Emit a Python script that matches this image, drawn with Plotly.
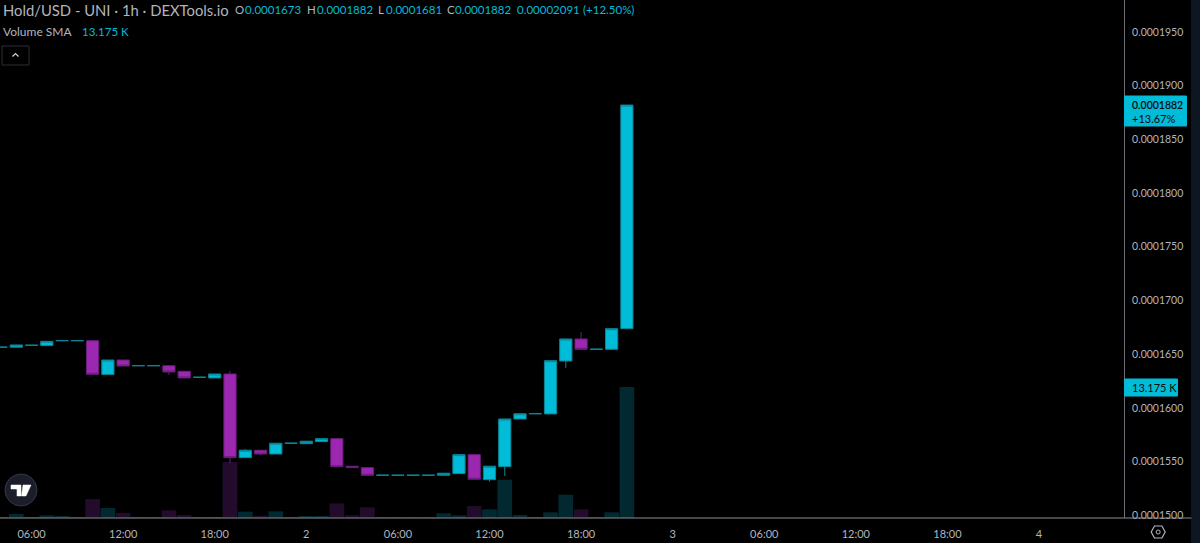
import pandas as pd
import plotly.graph_objects as go

# hourly candles, prices in units of 1e-7
times = pd.date_range("2022-01-01 04:00", "2022-01-02 21:00", freq="h")
opens = [1656.4, 1656.5, 1658.2, 1658.0, 1662.5, 1662.5, 1662.6, 1631.0, 1644.6, 1639.2, 1639.2, 1639.3, 1634.1, 1628.4, 1627.9, 1631.6, 1553.7, 1560.6, 1557.1, 1567.0, 1566.7, 1568.6, 1571.4, 1545.7, 1544.4, 1537.2, 1537.2, 1537.2, 1537.2, 1537.3, 1538.8, 1556.5, 1533.2, 1545.3, 1589.7, 1594.5, 1594.4, 1643.7, 1664.2, 1654.5, 1654.6, 1673.8]
highs = [1656.6, 1658.6, 1658.4, 1662.0, 1662.7, 1662.7, 1662.6, 1644.6, 1644.6, 1639.4, 1639.4, 1639.3, 1634.1, 1628.6, 1631.6, 1634.4, 1561.8, 1560.6, 1567.1, 1567.2, 1569.0, 1571.4, 1571.4, 1545.7, 1544.4, 1537.4, 1537.4, 1537.4, 1537.4, 1539.2, 1556.5, 1556.5, 1545.7, 1589.7, 1594.6, 1594.7, 1644.0, 1664.2, 1670.7, 1654.7, 1673.8, 1882.0]
lows = [1656.4, 1656.5, 1658.2, 1658.0, 1662.5, 1662.5, 1631.3, 1631.0, 1639.0, 1639.2, 1639.2, 1630.7, 1627.9, 1628.4, 1627.9, 1548.7, 1553.7, 1555.9, 1557.1, 1567.0, 1566.7, 1568.6, 1545.3, 1544.4, 1537.3, 1537.2, 1537.2, 1537.2, 1537.2, 1537.3, 1538.8, 1533.6, 1531.3, 1536.6, 1589.7, 1594.5, 1594.4, 1637.2, 1654.6, 1654.5, 1654.6, 1673.8]
closes = [1656.6, 1658.6, 1658.4, 1662.0, 1662.7, 1662.7, 1631.3, 1644.6, 1639.0, 1639.4, 1639.4, 1633.5, 1627.9, 1628.6, 1631.6, 1553.7, 1560.6, 1557.1, 1567.1, 1567.2, 1569.0, 1571.4, 1545.3, 1544.4, 1537.3, 1537.4, 1537.4, 1537.4, 1537.4, 1539.2, 1556.5, 1533.6, 1545.7, 1589.7, 1594.6, 1594.7, 1644.0, 1664.2, 1654.6, 1654.7, 1673.8, 1882.0]
volumes = [30, 400, 60, 270, 200, 30, 1900, 1000, 500, 50, 50, 770, 300, 50, 100, 5630, 640, 230, 670, 50, 170, 170, 1470, 270, 1070, 40, 40, 40, 40, 470, 270, 1200, 870, 3850, 300, 30, 570, 2340, 870, 20, 570, 13175]

price_ticks = [1500, 1550, 1600, 1650, 1700, 1750, 1800, 1850, 1900, 1950]
price_labels = ["0.0001500", "0.0001550", "0.0001600", "0.0001650", "0.0001700", "0.0001750", "0.0001800", "0.0001850", "0.0001900", "0.0001950"]
time_ticks = ["2022-01-01 06:00", "2022-01-01 12:00", "2022-01-01 18:00", "2022-01-02 00:00", "2022-01-02 06:00", "2022-01-02 12:00", "2022-01-02 18:00", "2022-01-03 00:00", "2022-01-03 06:00", "2022-01-03 12:00", "2022-01-03 18:00", "2022-01-04 00:00"]
time_labels = ["06:00", "12:00", "18:00", "2", "06:00", "12:00", "18:00", "3", "06:00", "12:00", "18:00", "4"]

CYAN = "#00BCD8"
PURPLE = "#9C27B0"
GREY = "#B2B5BE"
FONT = "Lato"
W, H = 1124.5, 518


def px(x):
    return x / W


def py(y):
    return 1 - y / H


def box(x0, y0, x1, y1, fill, line=None, shape="rect"):
    return dict(type=shape, xref="paper", yref="paper", x0=px(x0), x1=px(x1), y0=py(y0), y1=py(y1),
                fillcolor=fill, line=dict(color=line or fill, width=1), layer="above")


def path(points, color, fill="rgba(0,0,0,0)", width=1.5, closed=False):
    d = "M" + " L".join(f"{px(a):.5f},{py(b):.5f}" for a, b in points) + (" Z" if closed else "")
    return dict(type="path", xref="paper", yref="paper", path=d, fillcolor=fill,
                line=dict(color=color, width=width), layer="above")


def label(x, y, text, color=GREY, size=11.5, weight=None):
    return dict(xref="paper", yref="paper", x=px(x), y=py(y), text=text, showarrow=False, xanchor="left",
                yanchor="middle", font=dict(family=FONT, size=size, color=color, weight=weight), borderpad=0)


vol_colors = ["#02292F" if c >= o else "#230C2B" for o, c in zip(opens, closes)]

fig = go.Figure()
fig.add_trace(go.Bar(x=times, y=volumes, marker=dict(color=vol_colors, line=dict(width=0)), yaxis="y", hoverinfo="skip"))
fig.add_trace(go.Candlestick(
    x=times, open=opens, high=highs, low=lows, close=closes, yaxis="y2", whiskerwidth=0, hoverinfo="skip",
    increasing=dict(line=dict(color="#0A8496", width=1), fillcolor=CYAN),
    decreasing=dict(line=dict(color="#6A1E7A", width=1), fillcolor=PURPLE),
))

shapes = [
    box(1192, -1, 1201, 544, "#0C1722"),
    path([(0, 518), (1192, 518)], "#8A8D94", width=1),
    box(1125, 96, 1187, 126, CYAN),
    box(1125, 379, 1178, 396, CYAN),
    box(2, 46, 29, 65, "#000000", "#2A2E39"),
    path([(12.5, 56.5), (15.5, 53.5), (18.5, 56.5)], "#D1D4DC", width=1.2),
    box(5, 474, 37, 506, "#1B1D2A", "#363A45", "circle"),
    path([(11, 485), (21, 485), (21, 496), (17, 496), (17, 489), (11, 489)], "#FFFFFF", "#FFFFFF", 0.5, True),
    path([(23, 485), (31, 485), (26, 496), (21.5, 496)], "#FFFFFF", "#FFFFFF", 0.5, True),
    path([(1151.7, 532), (1155, 526), (1162.4, 526), (1165.7, 532), (1162.4, 538), (1155, 538)], "#B2B5BE", width=1.2, closed=True),
    box(1156.7, 530, 1160.7, 534, "rgba(0,0,0,0)", "#B2B5BE", "circle"),
]

annotations = [
    label(2, 9.5, "Hold/USD - UNI · 1h · DEXTools.io", size=14.8),
    label(234, 9.5, "O"),
    label(244.5, 9.5, "0.0001673", CYAN),
    label(306, 9.5, "H"),
    label(315.7, 9.5, "0.0001882", CYAN),
    label(376.7, 9.5, "L"),
    label(385, 9.5, "0.0001681", CYAN),
    label(446, 9.5, "C"),
    label(454.5, 9.5, "0.0001882", CYAN),
    label(516, 9.5, "0.00002091", CYAN),
    label(582.5, 9.5, "(+12.50%)", CYAN),
    label(2, 32, "Volume SMA", size=12),
    label(81, 32, "13.175 K", CYAN),
    label(1132, 105, "0.0001882", "#0A0A0A", size=10.5, weight=600),
    label(1132, 118, "+13.67%", "#0A0A0A", size=11),
    label(1132, 387.5, "13.175 K", "#0A0A0A", size=11),
]

fig.update_layout(
    width=1200, height=543, autosize=False,
    margin=dict(l=0, r=75.5, t=0, b=25),
    paper_bgcolor="#000000", plot_bgcolor="#000000",
    showlegend=False, bargap=0.04, boxgap=0.2, boxgroupgap=0,
    font=dict(family=FONT, size=11, color=GREY),
    shapes=shapes, annotations=annotations,
    xaxis=dict(type="date", range=["2022-01-01 03:56", "2022-01-04 05:34"], rangeslider=dict(visible=False),
               tickmode="array", tickvals=time_ticks, ticktext=time_labels, showgrid=False, zeroline=False,
               ticks="outside", ticklen=6, tickcolor="rgba(0,0,0,0)", tickangle=0, tickfont=dict(size=11, color=GREY)),
    yaxis=dict(range=[0, 52100], visible=False, showgrid=False, zeroline=False),
    yaxis2=dict(overlaying="y", side="right", range=[1497.5, 1979.8], tickmode="array", tickvals=price_ticks,
                ticktext=price_labels, showgrid=False, zeroline=False, showline=True, linecolor="#6E7077", linewidth=1,
                ticks="outside", ticklen=5, tickcolor="rgba(0,0,0,0)", tickfont=dict(size=10.5, color=GREY)),
)

fig.write_html("out.html", config={"displayModeBar": False}, post_script="document.body.style.margin='0';")
